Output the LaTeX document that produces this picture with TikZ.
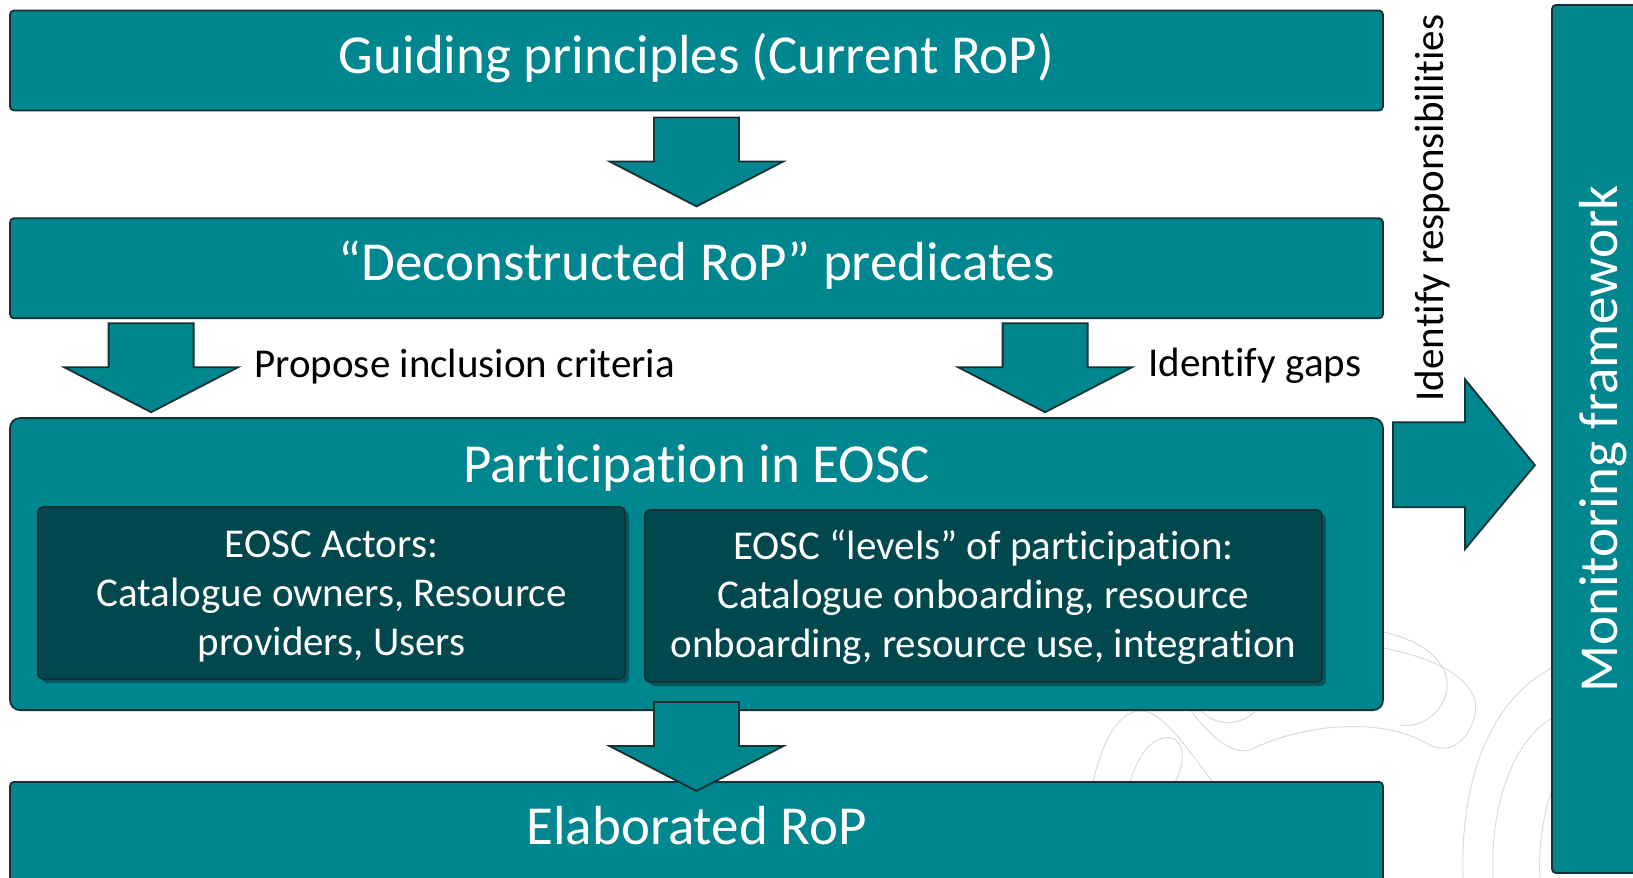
\documentclass[tikz,border=0pt]{standalone}
\usepackage{fontspec}
\setmainfont{Carlito}[Ligatures=NoCommon]
\usepackage{tikz}
\usetikzlibrary{positioning,shadows,calc}
\definecolor{eosc}{RGB}{0,134,143}
\definecolor{eoscdark}{RGB}{0,72,77}
\definecolor{eoscline}{RGB}{22,48,52}
\newcommand\downblock[1]{\draw[blockarrow] (#1) ++(-42.5,0) -- ++(85,0) -- ++(0,44) -- ++(44.5,0) -- ++(-87,45) -- ++(-87,-45) -- ++(44.5,0) -- cycle;}
\newcommand\firstline{\rule{0pt}{16.5pt}}
\tikzset{
    bigbox/.style={
                draw=eoscline,
                line width=0.9pt,
                fill=eosc,
                text=white,
                rounded corners=2pt,
                inner sep=0pt,
                minimum width=686.5pt,
                minimum height=50pt,
                text height=12.5pt,
                text depth=0pt,
                font=\fontsize{27.5}{33}\selectfont
            },
        innerbox/.style={
                draw=eoscline,
                line width=0.9pt,
                fill=eoscdark,
                text=white,
                rounded corners=2.5pt,
                align=center,
                minimum height=86pt,
                font=\fontsize{20.5}{24.5}\selectfont,
                drop shadow={shadow xshift=2pt, shadow yshift=-2pt, opacity=0.35, fill=black}
            },
        blockarrow/.style={
                draw=eoscline,
                line width=0.9pt,
                fill=eosc,
                line join=miter
            },
}
\begin{document}
\begin{tikzpicture}[
    x=0.5pt, y=-0.5pt,
    titletext/.style={
        text=white,
        inner sep=0pt,
        font=\fontsize{27.5}{33}\selectfont},
    sidetext/.style={
        text=black,
        inner sep=0pt,
        font=\fontsize{20.5}{24.5}\selectfont},
    watermark/.style={draw=black!14, line width=0.5pt},
  ]
  \useasboundingbox (0,0) rectangle (1633,878);
  \clip (0,0) rectangle (1633,878);
  % Background
  \draw[watermark] (1093,782) .. controls (1105,730) and (1125,705) .. (1148,712) .. controls (1170,720) and (1195,760) .. (1213,782);
  \draw[watermark] (1130,782) .. controls (1140,750) and (1155,735) .. (1172,738) .. controls (1185,742) and (1185,765) .. (1175,782);
  \draw[watermark] (1190,710) .. controls (1210,735) and (1230,755) .. (1250,750) .. controls (1300,725) and (1380,715) .. (1430,745) .. controls (1460,760) and (1480,720) .. (1475,700) .. controls (1465,670) and (1420,655) .. (1383,648);
  \draw[watermark] (1200,710) .. controls (1215,725) and (1235,728) .. (1255,712);
  \draw[watermark] (1383,632) .. controls (1420,640) and (1450,660) .. (1447,690) .. controls (1440,720) and (1415,728) .. (1400,725);
  \draw[watermark] (1463,878) .. controls (1460,780) and (1490,700) .. (1552,668);
  \draw[watermark] (1493,878) .. controls (1490,800) and (1515,740) .. (1552,718);
  \draw[watermark] (1540,878) .. controls (1538,840) and (1545,810) .. (1552,790);
  % Main column
  \node[bigbox] (guiding) at (696.5,60.5) {Guiding principles (Current RoP)};
  \node[bigbox, below=53pt of guiding] (decon) {“Deconstructed RoP” predicates};
  \node[bigbox, rounded corners=5pt, minimum height=146pt, below=49pt of decon] (part) {};
  \node[titletext, anchor=base] (ptitle) at ($(part.north)+(0,65)$) {Participation in EOSC};
  \node[innerbox, minimum width=293.5pt] (actors) at (331.5,593)
      {\firstline EOSC Actors:\\Catalogue owners, Resource\\providers, Users};
  \node[innerbox, minimum width=338.5pt] (levels) at (983.5,596)
      {\firstline EOSC “levels” of participation:\\Catalogue onboarding, resource\\onboarding, resource use, integration};
  \node[bigbox, below=35pt of part] (elab) {Elaborated RoP};
  % Monitoring
  \node[bigbox, rotate=90, minimum width=434pt, minimum height=52.5pt] (monitor) at (1604.5,439) {Monitoring framework};
  % Arrows
  \coordinate (a1) at ($(guiding.south)+(0,6)$);
  \coordinate (a2) at ($(decon.south west)+(142,4)$);
  \coordinate (a3) at ($(decon.south west)+(1036,4)$);
  \coordinate (a4) at ($(part.south)+(0,-9)$);
  \coordinate (a5) at ($(part.north east)+(9,5)$);
  \downblock{a1}
  \downblock{a2}
  \downblock{a3}
  \downblock{a4}
  \draw[blockarrow] (a5) -- ++(72,0) -- ++(0,-43) -- ++(70,86) -- ++(-70,84) -- ++(0,-42) -- ++(-72,0) -- cycle;
  % Labels
  \node[sidetext, anchor=base west] (propose) at (254,377) {Propose inclusion criteria};
  \node[sidetext, anchor=base west] (gaps) at (1148,376) {Identify gaps};
  \node[sidetext, rotate=90, anchor=base] (resp) at (1443,208) {Identify responsibilities};
\end{tikzpicture}
\end{document}
